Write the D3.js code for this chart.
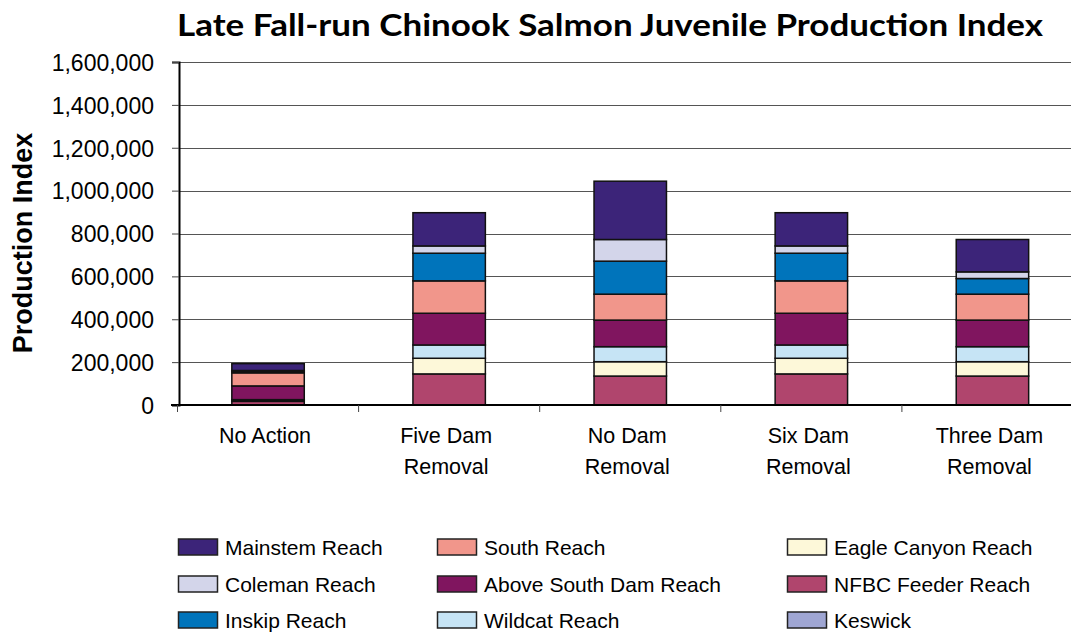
<!DOCTYPE html>
<html>
<head>
<meta charset="utf-8">
<script src="https://cdn.jsdelivr.net/npm/d3@7"></script>
<style>
  body { margin: 0; background: #fff; }
  svg { display: block; }
</style>
</head>
<body>
<svg id="chart" width="1071" height="633"></svg>
<script>
// scenarios along the x axis (label lines)
var categories = ["No Action", "Five Dam Removal", "No Dam Removal", "Six Dam Removal", "Three Dam Removal"];
var categoryLines = [["No Action"], ["Five Dam", "Removal"], ["No Dam", "Removal"], ["Six Dam", "Removal"], ["Three Dam", "Removal"]];

// series, bottom of the stack first
var seriesNames = ["Keswick", "NFBC Feeder Reach", "Eagle Canyon Reach", "Wildcat Reach",
    "Above South Dam Reach", "South Reach", "Inskip Reach", "Coleman Reach", "Mainstem Reach"];

var keswick     = [0, 0, 0, 0, 0];
var nfbcFeeder  = [17000, 145000, 135000, 145000, 135000];
var eagleCanyon = [4000, 73000, 67000, 73000, 67000];
var wildcat     = [4000, 62000, 70000, 62000, 70000];
var aboveSouth  = [64000, 148000, 124000, 148000, 124000];
var south       = [61000, 151000, 121000, 151000, 121000];
var inskip      = [7000, 129000, 154000, 129000, 73000];
var coleman     = [4000, 34000, 101000, 34000, 31000];
var mainstem    = [32000, 155000, 272000, 155000, 151000];

var yTicks = [0, 200000, 400000, 600000, 800000, 1000000, 1200000, 1400000, 1600000];

// legend is laid out in rows, Excel style
var legendOrder = ["Mainstem Reach", "South Reach", "Eagle Canyon Reach",
    "Coleman Reach", "Above South Dam Reach", "NFBC Feeder Reach",
    "Inskip Reach", "Wildcat Reach", "Keswick"];

var colors = {
    "Mainstem Reach": "#3c2479",
    "Coleman Reach": "#d3d5ea",
    "Inskip Reach": "#0074bb",
    "South Reach": "#f1968b",
    "Above South Dam Reach": "#80155f",
    "Wildcat Reach": "#c6e4f5",
    "Eagle Canyon Reach": "#fdf8d9",
    "NFBC Feeder Reach": "#b0456d",
    "Keswick": "#9fa6d3"
};

var seriesValues = [keswick, nfbcFeeder, eagleCanyon, wildcat, aboveSouth, south, inskip, coleman, mainstem];

var rows = categories.map(function(c, i) {
    var r = {category: c};
    seriesNames.forEach(function(s, j) { r[s] = seriesValues[j][i]; });
    return r;
});

var svg = d3.select("#chart");
var margin = {left: 179, top: 62, right: 1083, bottom: 405};
var font = "'Liberation Sans', Arial, sans-serif";

var x = d3.scaleBand()
    .domain(categories)
    .range([margin.left - 1.5, margin.right])
    .paddingInner(0.6)
    .paddingOuter(0.3);
var xOuter = d3.scaleBand().domain(categories).range([margin.left - 1.5, margin.right]);

var y = d3.scaleLinear().domain([0, 1600000]).range([margin.bottom, margin.top]);

// title
svg.append("text")
    .attr("x", 610)
    .attr("y", 36)
    .attr("text-anchor", "middle")
    .style("font-family", "Lato, 'Open Sans', sans-serif")
    .style("font-weight", "bold")
    .style("font-size", "30px")
    .attr("textLength", 866)
    .attr("lengthAdjust", "spacingAndGlyphs")
    .text("Late Fall-run Chinook Salmon Juvenile Production Index");

// grid lines
svg.append("g")
    .selectAll("line")
    .data(yTicks.slice(1))
    .join("line")
    .attr("x1", margin.left)
    .attr("x2", 1071)
    .attr("y1", function(d) { return Math.round(y(d)) + 0.5; })
    .attr("y2", function(d) { return Math.round(y(d)) + 0.5; })
    .attr("stroke", "#555")
    .attr("stroke-width", 1);

// y axis
var yAxis = svg.append("g")
    .attr("transform", "translate(" + margin.left + ",0)")
    .call(d3.axisLeft(y).tickValues(yTicks).tickFormat(d3.format(",")).tickSize(7).tickPadding(18));
yAxis.select(".domain").attr("stroke", "#000").attr("stroke-width", 2);
yAxis.selectAll(".tick line").attr("stroke", "#444");
yAxis.selectAll(".tick text")
    .style("font-family", font)
    .style("font-size", "23px")
    .attr("fill", "#000")
    .attr("dy", "0.36em");

svg.append("text")
    .attr("transform", "translate(32,243) rotate(-90)")
    .attr("text-anchor", "middle")
    .style("font-family", font)
    .style("font-weight", "bold")
    .style("font-size", "27px")
    .text("Production Index");

// stacked bars
var stack = d3.stack().keys(seriesNames);
var layers = stack(rows);

svg.append("g")
    .selectAll("g")
    .data(layers)
    .join("g")
    .attr("fill", function(d) { return colors[d.key]; })
    .selectAll("rect")
    .data(function(d) { return d.filter(function(p) { return p[1] - p[0] > 0; }); })
    .join("rect")
    .attr("x", function(d) { return x(d.data.category); })
    .attr("width", x.bandwidth())
    .attr("y", function(d) { return y(d[1]); })
    .attr("height", function(d) { return y(d[0]) - y(d[1]); })
    .attr("stroke", "#111")
    .attr("stroke-width", 1.5);

// x axis
var xAxis = svg.append("g")
    .attr("transform", "translate(0," + margin.bottom + ")");
xAxis.append("line")
    .attr("x1", margin.left - 8)
    .attr("x2", 1071)
    .attr("stroke", "#000")
    .attr("stroke-width", 2);
xAxis.selectAll(".cat-tick")
    .data(categories)
    .join("line")
    .attr("class", "cat-tick")
    .attr("x1", function(d) { return xOuter(d); })
    .attr("x2", function(d) { return xOuter(d); })
    .attr("y1", 0)
    .attr("y2", 7)
    .attr("stroke", "#444");

var xLabels = xAxis.selectAll(".cat-label")
    .data(categories)
    .join("text")
    .attr("class", "cat-label")
    .attr("text-anchor", "middle")
    .style("font-family", font)
    .style("font-size", "21.5px")
    .attr("transform", function(d) { return "translate(" + (x(d) + x.bandwidth() / 2 - 3) + ",0)"; });
xLabels.selectAll("tspan")
    .data(function(d, i) { return categoryLines[i]; })
    .join("tspan")
    .attr("x", 0)
    .attr("y", function(d, i) { return 38 + i * 31; })
    .text(function(d) { return d; });

// legend
var legend = svg.append("g");
var colX = [178, 437, 787];
var rowY = [547, 584, 620];
var items = legend.selectAll("g")
    .data(legendOrder)
    .join("g")
    .attr("transform", function(d, i) {
        return "translate(" + colX[i % 3] + "," + rowY[Math.floor(i / 3)] + ")";
    });
items.append("rect")
    .attr("x", 0.5)
    .attr("y", -8)
    .attr("width", 39)
    .attr("height", 16)
    .attr("fill", function(d) { return colors[d]; })
    .attr("stroke", "#222")
    .attr("stroke-width", 1.5);
items.append("text")
    .attr("x", 47)
    .attr("y", 0)
    .attr("dy", "0.36em")
    .style("font-family", font)
    .style("font-size", "21px")
    .text(function(d) { return d; });
</script>
</body>
</html>
